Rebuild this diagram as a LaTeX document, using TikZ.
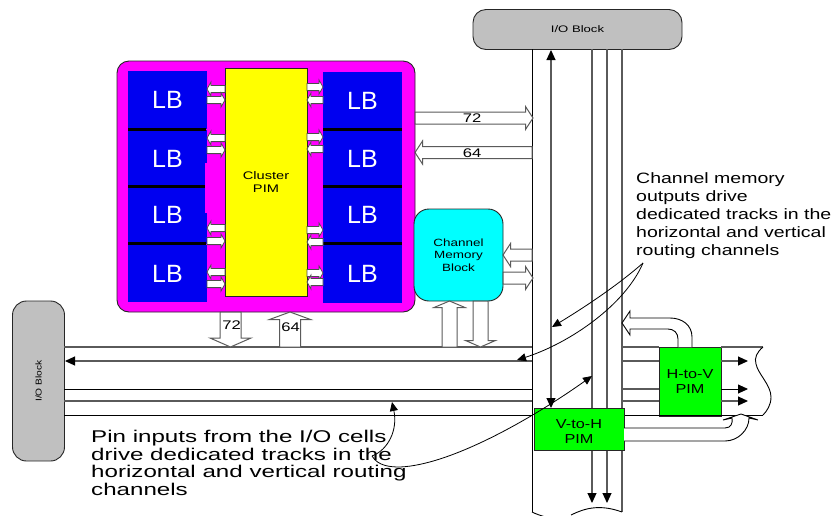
\documentclass[tikz,border=0pt]{standalone}
\usepackage{fontspec}
\setmainfont{Liberation Sans}
\newfontfamily\fpin[FakeStretch=1.42]{Liberation Sans}
\newfontfamily\fnote[FakeStretch=1.3]{Liberation Sans}
\newfontfamily\fio[FakeStretch=1.38]{Liberation Sans}
\newfontfamily\fleft[FakeStretch=1.2]{Liberation Sans}
\newfontfamily\fmem[FakeStretch=1.28]{Liberation Sans}
\newfontfamily\fclu[FakeStretch=1.33]{Liberation Sans}
\newfontfamily\fpim[FakeStretch=1.25]{Liberation Sans}
\usetikzlibrary{calc,arrows.meta}
\definecolor{lbblue}{RGB}{0,0,240}
\definecolor{linegray}{RGB}{90,90,90}
\definecolor{pmag}{RGB}{255,0,255}
\definecolor{pcyan}{RGB}{0,255,255}
\definecolor{pyel}{RGB}{255,255,0}
\definecolor{pgrn}{RGB}{0,255,0}
\definecolor{pgray}{RGB}{192,192,192}
\tikzset{
  box/.style={draw=black!85,line width=0.9pt,inner sep=0pt,align=center},
  iobox/.style={box,fill=pgray,rounded corners=13pt},
  lbbox/.style={fill=lbblue,inner sep=0pt,text=white,font=\fontsize{25}{25}\selectfont},
  sepbar/.style={line width=3pt,black},
  trk/.style={line width=1.1pt,linegray},
  trkb/.style={line width=0.9pt,black},
  tip/.style={-{Triangle[length=10pt,width=9pt,black]}},
  tips/.style={{Triangle[length=10pt,width=9pt,black]}-{Triangle[length=10pt,width=9pt,black]}},
  note/.style={line width=0.8pt,black,-{Triangle[length=9pt,width=8pt]}},
  barrow/.style n args={3}{draw=linegray,line width=1pt,fill=white,to path={
    ($(\tikztostart)!#1!90:(\tikztotarget)$)
    -- ($(\tikztotarget)!#3!(\tikztostart)!#1!-90:(\tikztostart)$)
    -- ($(\tikztotarget)!#3!(\tikztostart)!#2!-90:(\tikztostart)$)
    -- (\tikztotarget)
    -- ($(\tikztotarget)!#3!(\tikztostart)!#2!90:(\tikztostart)$)
    -- ($(\tikztotarget)!#3!(\tikztostart)!#1!90:(\tikztostart)$)
    -- ($(\tikztostart)!#1!-90:(\tikztotarget)$) -- cycle}},
  smallarrow/.style={barrow={3.6pt}{7pt}{4pt},draw=black!70,line width=0.8pt},
  lbl/.style={inner sep=0pt,font=\fclu\fontsize{12.5}{14}\selectfont},
  txt/.style={inner sep=0pt,align=left,anchor=north west},
}
\begin{document}
\begin{tikzpicture}[x=1pt,y=-1pt]
\useasboundingbox (0,0) rectangle (832,515);
\node[iobox,minimum width=209pt,minimum height=40pt,font=\fio\fontsize{9.5}{11}\selectfont] (iotop) at (577.5,29.5) {I/O Block};
\node[iobox,rounded corners=14pt,minimum width=52pt,minimum height=160pt] (ioleft) at (38.5,381) {};
\node[rotate=90,inner sep=0pt,font=\fleft\fontsize{8.5}{10}\selectfont] (iolefttext) at (38.5,381) {I/O Block};
% magenta cluster
\node[draw=black!85,line width=0.9pt,fill=pmag,rounded corners=12pt,minimum width=298pt,minimum height=251pt,inner sep=0pt] (cluster) at (266,186.5) {};
\node[lbbox,minimum width=79pt,minimum height=58pt] (lb1) at (167.5,100) {LB};
\node[lbbox,minimum width=79pt,minimum height=57pt] (lb2) at (167.5,158.5) {LB};
\node[lbbox,minimum width=79pt,minimum height=57pt] (lb3) at (167.5,215) {LB};
\node[lbbox,minimum width=79pt,minimum height=57pt] (lb4) at (167.5,273.5) {LB};
\node[lbbox,minimum width=79pt,minimum height=58pt] (rb1) at (362.5,101) {LB};
\node[lbbox,minimum width=79pt,minimum height=57pt] (rb2) at (362.5,158.5) {LB};
\node[lbbox,minimum width=79pt,minimum height=57pt] (rb3) at (362.5,215) {LB};
\node[lbbox,minimum width=79pt,minimum height=58pt] (rb4) at (362.5,274) {LB};
\fill[pmag] (205,163) rectangle (208,213);
\draw[sepbar] (128,129.5) -- (206,129.5);
\draw[sepbar] (128,186.5) -- (205,186.5);
\draw[sepbar] (128,243.5) -- (206,243.5);
\draw[sepbar] (323,129.5) -- (402,129.5);
\draw[sepbar] (323,186.5) -- (402,186.5);
\draw[sepbar] (323,243.5) -- (402,243.5);
\node[box,fill=pyel,minimum width=82pt,minimum height=228pt,font=\fclu\fontsize{11}{13}\selectfont] (cpim) at (266,182) {Cluster\\PIM};
% small block arrows between LBs and cluster PIM
\foreach \n/\y in {a/89,b/138,c/228,d/272}{
  \coordinate (ls\n) at (225,\y); \coordinate (lt\n) at (207,\y);
  \draw[smallarrow] (ls\n) to (lt\n);}
\foreach \n/\y in {a/100,b/150,c/241,d/284}{
  \coordinate (ms\n) at (207,\y); \coordinate (mt\n) at (225,\y);
  \draw[smallarrow] (ms\n) to (mt\n);}
\foreach \n/\y in {a/87,b/137,c/230,d/273}{
  \coordinate (ns\n) at (307,\y); \coordinate (nt\n) at (323,\y);
  \draw[smallarrow] (ns\n) to (nt\n);}
\foreach \n/\y in {a/100,b/149,c/242,d/282}{
  \coordinate (os\n) at (323,\y); \coordinate (ot\n) at (307,\y);
  \draw[smallarrow] (os\n) to (ot\n);}
% channel memory
\node[box,fill=pcyan,rounded corners=15pt,minimum width=89pt,minimum height=92pt,font=\fmem\fontsize{10.5}{12.6}\selectfont] (cmem) at (458.5,255) {Channel\\Memory\\Block};
% PIMs
\node[box,fill=pgrn,minimum width=62pt,minimum height=69pt,font=\fpim\fontsize{13}{15}\selectfont] (hv) at (690,381.5) {H-to-V\\PIM};
% coordinates of track ends
\coordinate (cl1) at (532,49); \coordinate (cl2) at (532,512);
\coordinate (cr1) at (622,49); \coordinate (cr2) at (622,512);
\coordinate (v0a) at (551,50); \coordinate (v0b) at (551,408);
\coordinate (v1a) at (592,49); \coordinate (v1b) at (592,408); \coordinate (v1c) at (592,450); \coordinate (v1d) at (592,503);
\coordinate (v2a) at (607,49); \coordinate (v2b) at (607,408); \coordinate (v2c) at (607,450); \coordinate (v2d) at (607,503);
\draw[trkb] (cl1) -- (cl2);
\draw[trk] (cr1) -- (cr2);
\draw[trk,tips] (v0a) -- (v0b);
\draw[trk] (v1a) -- (v1b);
\draw[trk] (v2a) -- (v2b);
\draw[trk,tip] (v1c) -- (v1d);
\draw[trk,tip] (v2c) -- (v2d);
% horizontal tracks
\coordinate (h1l) at (64,347); \coordinate (h1m) at (532,347); \coordinate (h1n) at (622,347); \coordinate (h1o) at (659,347); \coordinate (h1p) at (721,347); \coordinate (h1q) at (763,347);
\coordinate (h2l) at (65,361); \coordinate (h2m) at (532,361); \coordinate (h2n) at (622,361); \coordinate (h2o) at (659,361); \coordinate (h2p) at (721,361); \coordinate (h2q) at (748,361);
\coordinate (h3l) at (64,389); \coordinate (h3m) at (532,389); \coordinate (h3n) at (622,389); \coordinate (h3o) at (659,389); \coordinate (h3p) at (721,389); \coordinate (h3q) at (748,389);
\coordinate (h4l) at (64,401); \coordinate (h4m) at (532,401); \coordinate (h4n) at (622,401); \coordinate (h4o) at (659,401); \coordinate (h4p) at (721,401); \coordinate (h4q) at (748,401);
\coordinate (h5l) at (64,415); \coordinate (h5m) at (532,415); \coordinate (h5n) at (622,415); \coordinate (h5q) at (763,415);
\draw[trk] (h1l) -- (h1m); \draw[trk] (h1n) -- (h1o); \draw[trk] (h1p) -- (h1q);
\draw[trk,tip] (h2m) -- (h2l); \draw[trk] (h2n) -- (h2o); \draw[trk,tip] (h2p) -- (h2q);
\draw[trkb] (h3l) -- (h3m); \draw[trk] (h3n) -- (h3o); \draw[trkb,tip] (h3p) -- (h3q);
\draw[trk] (h4l) -- (h4m); \draw[trk] (h4n) -- (h4o); \draw[trk,tip] (h4p) -- (h4q);
\draw[trkb] (h5l) -- (h5m); \draw[trkb] (h5n) -- (h5q);
\node[box,fill=pgrn,minimum width=90pt,minimum height=42pt,font=\fpim\fontsize{13}{15}\selectfont] (vh) at (579,429) {\rule{0pt}{13pt}V-to-H\\PIM};
% torn edges
\draw[line width=0.9pt,black] (h1q) .. controls (757,352) and (754,358) .. (756,364) .. controls (758,374) and (771,385) .. (771,397) .. controls (771,405) and (767,411) .. (h5q);
\draw[line width=0.9pt,black] (cl2) .. controls (540,516) and (552,519) .. (561,520);
\draw[line width=0.9pt,black] (571,515) .. controls (585,508) and (600,504) .. (cr2);
% big block arrows
\tikzset{bigarrow/.style={barrow={6pt}{11.5pt}{7.5pt}}}
\coordinate (a72s) at (415,118); \coordinate (a72t) at (533,118);
\coordinate (a64s) at (532,152.5); \coordinate (a64t) at (415,152.5);
\coordinate (m1s) at (532,255); \coordinate (m1t) at (503,255);
\coordinate (m2s) at (503,278); \coordinate (m2t) at (533,278);
\coordinate (m3s) at (449.5,347); \coordinate (m3t) at (449.5,301);
\coordinate (m4s) at (480.5,301); \coordinate (m4t) at (480.5,347);
\coordinate (c1s) at (230.5,312); \coordinate (c1t) at (230.5,347);
\coordinate (c2s) at (290,347); \coordinate (c2t) at (290,312);
\draw[bigarrow] (a72s) to (a72t);
\draw[bigarrow] (a64s) to (a64t);
\draw[bigarrow] (m1s) to (m1t);
\draw[bigarrow] (m2s) to (m2t);
\draw[barrow={7.5pt}{15.5pt}{6.5pt}] (m3s) to (m3t);
\draw[barrow={7.5pt}{15pt}{6.5pt}] (m4s) to (m4t);
\draw[barrow={10.5pt}{20.5pt}{9pt}] (c1s) to (c1t);
\draw[barrow={10.5pt}{20.5pt}{7.5pt}] (c2s) to (c2t);
\node[lbl] (t72b) at (472,118) {72};
\node[lbl] (t64b) at (472,153) {64};
\node[lbl] (t72a) at (231.5,325) {72};
\node[lbl] (t64a) at (290.5,327) {64};
% curved block arrows
\draw[draw=black,line width=0.9pt,fill=white] (692,347) -- (692,337) .. controls (692,325) and (682,318) .. (670,318) -- (630,318) -- (630,311) -- (622,323) -- (630,335) -- (630,329) -- (668,329) .. controls (674,329) and (678,333) .. (678,339) -- (678,347);
\draw[draw=black,line width=0.9pt,fill=white] (624,428) -- (725,428) .. controls (731,428) and (733,423) .. (732,418) -- (723,420) -- (741,414) -- (758,420) -- (749,418) .. controls (749,430) and (738,441) .. (725,441) -- (624,441);
% annotations
\node[txt,font=\fnote\fontsize{15}{18}\selectfont] (note1) at (636,172) {Channel memory\\outputs drive\\dedicated tracks in the\\horizontal and vertical\\routing channels};
\node[txt,font=\fpin\fontsize{17}{17.7}\selectfont] (note2) at (91,430) {Pin inputs from the I/O cells\\drive dedicated tracks in the\\horizontal and vertical routing\\channels};
\coordinate (src1) at (643,263);
\coordinate (src2) at (372,456);
\coordinate (n1t) at (552,327); \coordinate (n2t) at (517,360);
\coordinate (n3t) at (592,376); \coordinate (n4t) at (392,402);
\draw[note] (src1) .. controls (618,285) and (585,307) .. (n1t);
\draw[note] (src1) .. controls (625,305) and (570,343) .. (n2t);
\draw[note] (src2) .. controls (378,466) and (390,467) .. (400,467) .. controls (450,465) and (530,420) .. (n3t);
\draw[note] (src2) .. controls (388,450) and (398,430) .. (n4t);
\end{tikzpicture}
\end{document}
